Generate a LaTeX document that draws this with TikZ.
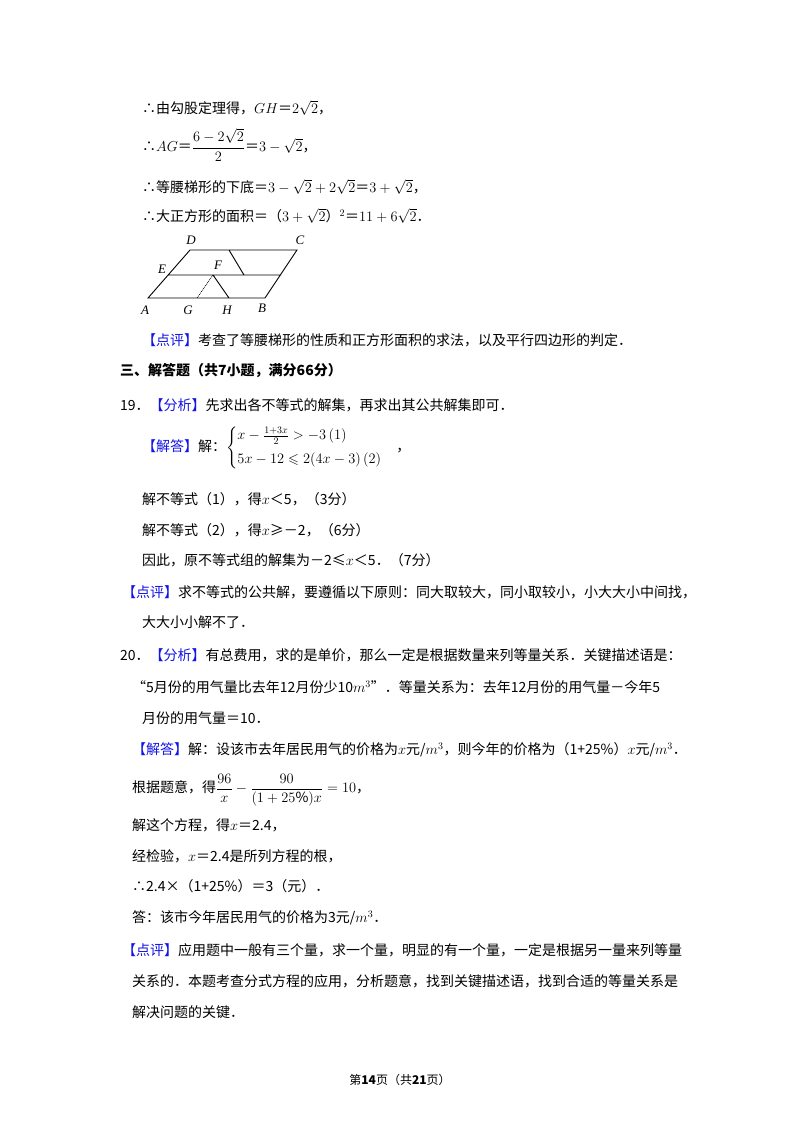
\documentclass[tikz,border=0pt]{standalone}
\usepackage{fontspec}
\setmainfont{Noto Sans CJK SC}
\newfontfamily\lat{Liberation Serif}
\usepackage{amsmath,amssymb}
\definecolor{bl}{RGB}{20,20,230}
\newcommand{\tg}[1]{\textcolor{bl}{【#1】}}
\begin{document}
\begin{tikzpicture}[x=1pt,y=-1pt,
  ln/.style={anchor=west,inner sep=0pt,font=\fontsize{14}{16}\selectfont},
  lbl/.style={inner sep=0pt,font=\fontsize{13}{14}\selectfont\lat\itshape}]
\useasboundingbox (0,0) rectangle (800,1132);
\fill[white] (0,0) rectangle (800,1132);
\node[ln] (l1) at (142,108) {∴由勾股定理得，$GH$＝$2\sqrt{2}$，};
\node[ln] (l2) at (142,145) {∴$AG$＝$\dfrac{6-2\sqrt{2}}{2}$＝$3-\sqrt{2}$，};
\node[ln] (l3) at (142,187) {∴等腰梯形的下底＝$3-\sqrt{2}+2\sqrt{2}$＝$3+\sqrt{2}$，};
\node[ln] (l4) at (142,216) {∴大正方形的面积＝（$3+\sqrt{2}$）$^2$＝$11+6\sqrt{2}$．};
% figure
\coordinate (A) at (148,298); \coordinate (B) at (265,298);
\coordinate (C) at (297,250); \coordinate (D) at (190,250);
\coordinate (E) at (168,275); \coordinate (E2) at (281,275);
\coordinate (F) at (213,275); \coordinate (G) at (197,298);
\coordinate (H) at (229,298); \coordinate (P) at (229,250); \coordinate (Q) at (244,275);
\draw[line width=0.9pt] (A)--(B)--(C)--(D)--cycle (E)--(E2) (F)--(H) (P)--(Q);
\draw[densely dotted,line width=0.8pt] (F)--(G);
\node[lbl] (nA) at (145,310) {A}; \node[lbl] (nB) at (262,308) {B};
\node[lbl] (nC) at (300,240) {C}; \node[lbl] (nD) at (191,240) {D};
\node[lbl] (nE) at (162,269) {E}; \node[lbl] (nF) at (218,265) {F};
\node[lbl] (nG) at (188,310) {G}; \node[lbl] (nH) at (227,310) {H};
\node[ln] (l5) at (142,340) {\tg{点评}考查了等腰梯形的性质和正方形面积的求法，以及平行四边形的判定．};
\node[ln,font=\fontsize{14}{16}\selectfont\bfseries] (l6) at (120,371) {三、解答题（共7小题，满分66分）};
\node[ln] (l7) at (120,405) {19．\tg{分析}先求出各不等式的解集，再求出其公共解集即可．};
\node[ln] (l8) at (142,448) {\tg{解答}解：$\left\{\begin{aligned}&x-\tfrac{1+3x}{2}>-3\,(1)\\[4pt]&5x-12\leqslant 2(4x-3)\,(2)\end{aligned}\right.$\quad ，};
\node[ln] (l9) at (142,499) {解不等式（1），得$x$＜5，（3分）};
\node[ln] (l10) at (142,530) {解不等式（2），得$x$≥－2，（6分）};
\node[ln] (l11) at (142,560) {因此，原不等式组的解集为－2≤$x$＜5．（7分）};
\node[ln] (l12) at (122,592) {\tg{点评}求不等式的公共解，要遵循以下原则：同大取较大，同小取较小，小大大小中间找，};
\node[ln] (l13) at (142,622) {大大小小解不了．};
\node[ln] (l14) at (120,655) {20．\tg{分析}有总费用，求的是单价，那么一定是根据数量来列等量关系．关键描述语是：};
\node[ln] (l15) at (132,687) {“5月份的用气量比去年12月份少10$m^3$”．等量关系为：去年12月份的用气量－今年5};
\node[ln] (l16) at (142,718) {月份的用气量＝10．};
\node[ln] (l17) at (132,750) {\tg{解答}解：设该市去年居民用气的价格为$x$元/$m^3$，则今年的价格为（1+25\%）$x$元/$m^3$．};
\node[ln] (l18) at (132,790) {根据题意，得$\dfrac{96}{x}-\dfrac{90}{(1+25\%)x}=10$，};
\node[ln] (l19) at (132,825) {解这个方程，得$x$＝2.4，};
\node[ln] (l20) at (132,856) {经检验，$x$＝2.4是所列方程的根，};
\node[ln] (l21) at (132,886) {∴2.4×（1+25\%）＝3（元）．};
\node[ln] (l22) at (132,918) {答：该市今年居民用气的价格为3元/$m^3$．};
\node[ln] (l23) at (122,950) {\tg{点评}应用题中一般有三个量，求一个量，明显的有一个量，一定是根据另一量来列等量};
\node[ln] (l24) at (132,981) {关系的．本题考查分式方程的应用，分析题意，找到关键描述语，找到合适的等量关系是};
\node[ln] (l25) at (132,1012) {解决问题的关键．};
\node[inner sep=0pt,font=\fontsize{12}{14}\selectfont] (pg) at (400,1080) {第\textbf{14}页（共\textbf{21}页）};
\end{tikzpicture}
\end{document}
